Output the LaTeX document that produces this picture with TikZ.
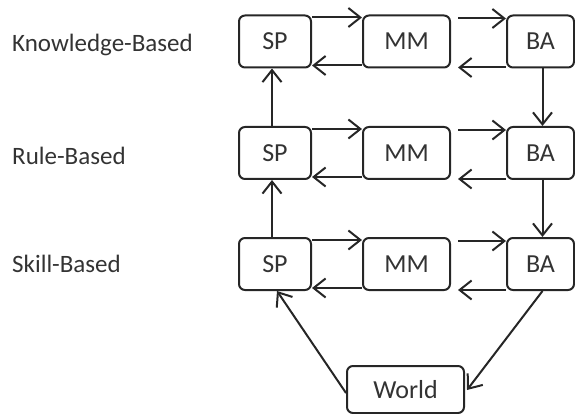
\documentclass[tikz,border=0pt]{standalone}
\usepackage{fontspec}
\setmainfont{Carlito}
\usetikzlibrary{arrows.meta}
\begin{document}
\begin{tikzpicture}[x=1pt,y=-1pt,
  box/.style={draw=black!85,line width=2pt,rounded corners=6pt,inner sep=0pt,font=\fontsize{26}{28}\selectfont,text=black!80},
  lvl/.style={anchor=base west,inner sep=0pt,font=\fontsize{25}{28}\selectfont,text=black!80},
  arr/.style={draw=black!85,line width=2pt,-{Straight Barb[length=12pt,width=19pt,line width=2pt]}}]
\useasboundingbox (0,0) rectangle (575,414);
% labels
\node[lvl] (lk) at (12,52) {Knowledge-Based};
\node[lvl] (lr) at (12,165) {Rule-Based};
\node[lvl] (ls) at (12,272) {Skill-Based};
% boxes
\foreach \r/\y in {1/41.5,2/153,3/264}{
  \node[box,minimum width=72pt,minimum height=52pt] (SP\r) at (275,\y) {SP};
  \node[box,minimum width=87pt,minimum height=52pt] (MM\r) at (406.5,\y) {MM};
  \node[box,minimum width=67pt,minimum height=52pt] (BA\r) at (540.5,\y) {BA};
}
\node[box,minimum width=117pt,minimum height=47pt] (W) at (405.5,389.5) {World};
% horizontal arrows
\foreach \r in {1,2,3}{
  \draw[arr] ([yshift=-3pt]SP\r.north east) -- ([yshift=-3pt]MM\r.north west);
  \draw[arr] ([xshift=7pt,yshift=-4pt]MM\r.north east) -- ([yshift=-4pt]BA\r.north west);
  \draw[arr] ([yshift=3pt]MM\r.south west) -- ([yshift=3pt]SP\r.south east);
  \draw[arr] ([yshift=1pt]BA\r.south west) -- ([xshift=7pt,yshift=1pt]MM\r.south east);
}
% vertical arrows
\draw[arr] ([xshift=2pt]BA1.south) -- ([xshift=2pt]BA2.north);
\draw[arr] ([xshift=2pt]BA2.south) -- ([xshift=2pt]BA3.north);
\draw[arr] ([xshift=-3pt]SP2.north) -- ([xshift=-3pt]SP1.south);
\draw[arr] ([xshift=-3pt]SP3.north) -- ([xshift=-3pt]SP2.south);
% world loop
\draw[arr] ([yshift=21pt]W.south west) -- ([xshift=2pt]SP3.south);
\draw[arr] ([xshift=2pt]BA3.south) -- ([xshift=2pt,yshift=24pt]W.south east);
\end{tikzpicture}
\end{document}
